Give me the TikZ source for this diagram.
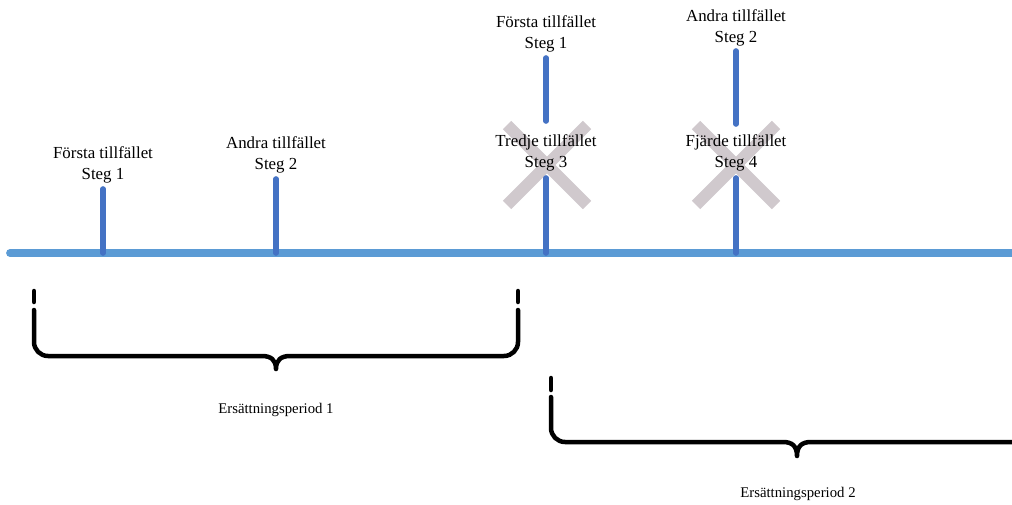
\documentclass[tikz,border=0pt]{standalone}
\usepackage{fontspec}
\setmainfont{Liberation Serif}
\usepackage{tikz}

\definecolor{axisblue}{RGB}{91,155,213}
\definecolor{tickblue}{RGB}{68,114,196}
\definecolor{crossgray}{RGB}{208,201,205}

\tikzset{
  axisline/.style={line width=5.5pt,axisblue,line cap=round},
  tickline/.style={line width=4pt,tickblue,line cap=round},
  crossline/.style={line width=8.5pt,crossgray},
  braceline/.style={line width=3.2pt,black,line cap=round,line join=round},
  steplabel/.style={align=center,inner sep=0pt,font=\fontsize{12}{14.9}\selectfont},
  periodlabel/.style={inner sep=0pt,font=\fontsize{10.5}{12}\selectfont}
}

\begin{document}
\begin{tikzpicture}[x=0.025cm,y=-0.025cm]
        \useasboundingbox (0,0) rectangle (1012,505);

        % grey crosses behind the struck labels
        \draw[crossline] (507,125) -- (587,205);
        \draw[crossline] (507,205) -- (587,125);
        \draw[crossline] (696,125) -- (776,205);
        \draw[crossline] (696,205) -- (776,125);

        % time axis
        \coordinate (axisL) at (10,253);
        \coordinate (axisR) at (1014,253);
        \draw[axisline] (axisL) -- (axisR);

        % ticks
        \coordinate (b1) at (103,253); \coordinate (e1) at (103,189);
        \coordinate (b2) at (276,253); \coordinate (e2) at (276,179);
        \coordinate (b3) at (546,253); \coordinate (e3) at (546,178);
        \coordinate (u3) at (546,121); \coordinate (v3) at (546,58);
        \coordinate (b4) at (736,253); \coordinate (e4) at (736,178);
        \coordinate (u4) at (736,124); \coordinate (v4) at (736,51);
        \draw[tickline] (b1) -- (e1);
        \draw[tickline] (b2) -- (e2);
        \draw[tickline] (b3) -- (e3);
        \draw[tickline] (u3) -- (v3);
        \draw[tickline] (b4) -- (e4);
        \draw[tickline] (u4) -- (v4);

        % labels
        \node[steplabel] (first1) at (103,165) {Första tillfället\\Steg 1};
        \node[steplabel] (second1) at (276,155) {Andra tillfället\\Steg 2};
        \node[steplabel] (first2) at (546,34) {Första tillfället\\Steg 1};
        \node[steplabel] (third) at (546,153) {Tredje tillfället\\Steg 3};
        \node[steplabel] (second2) at (736,28) {Andra tillfället\\Steg 2};
        \node[steplabel] (fourth) at (736,153) {Fjärde tillfället\\Steg 4};

        % first period brace
        \draw[braceline] (34,291) -- (34,302);
        \draw[braceline] (518,291) -- (518,302);
        \draw[braceline] (34,310) -- (34,342) to[out=-90,in=180] (48,356)
            -- (262,356) .. controls (271,356) and (276,360) .. (276,369)
            .. controls (276,360) and (281,356) .. (290,356)
            -- (504,356) to[out=0,in=-90] (518,342) -- (518,310);
        \node[periodlabel] (period1) at (276,410) {Ersättningsperiod 1};

        % second period brace
        \draw[braceline] (551,378) -- (551,390);
        \draw[braceline] (551,397) -- (551,428) to[out=-90,in=180] (565,442)
            -- (783,442) .. controls (792,442) and (797,446) .. (797,456)
            .. controls (797,446) and (802,442) .. (811,442)
            -- (1016,442);
        \node[periodlabel] (period2) at (798,494) {Ersättningsperiod 2};
\end{tikzpicture}
\end{document}
